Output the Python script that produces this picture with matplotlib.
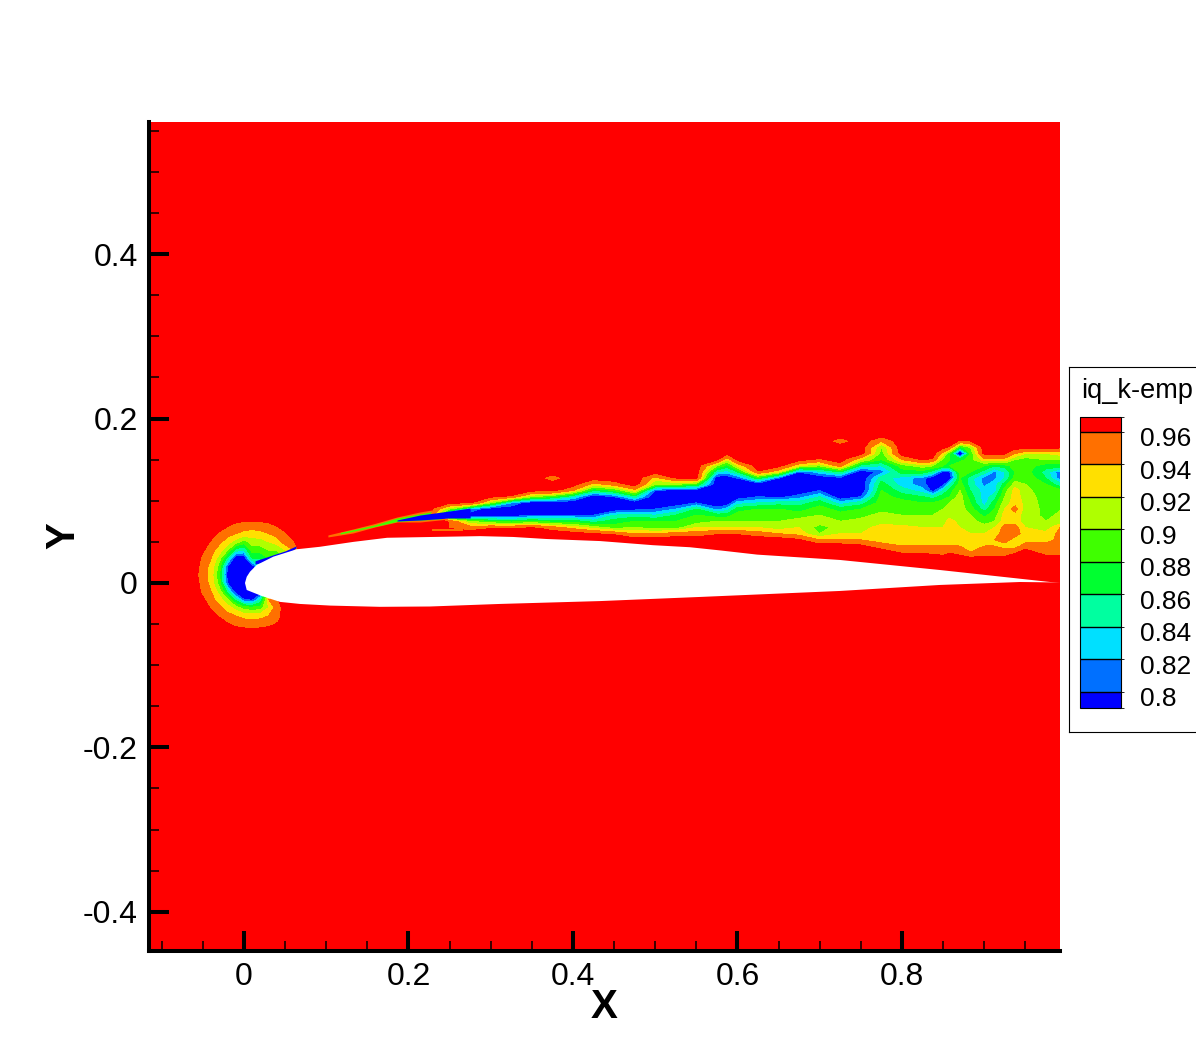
#!/usr/bin/python
import matplotlib
matplotlib.use("Agg")
import matplotlib.pyplot as plt
from matplotlib.cm import ScalarMappable
from matplotlib.colors import BoundaryNorm, ListedColormap
from matplotlib.ticker import MultipleLocator
import numpy as np

plt.rcParams['font.family'] = ['Liberation Sans', 'DejaVu Sans']

W, H = 1196, 1062

# contour levels and legend
level_ticks = [0.96, 0.94, 0.92, 0.9, 0.88, 0.86, 0.84, 0.82, 0.8]
legend_bounds = [0.79, 0.8, 0.82, 0.84, 0.86, 0.88, 0.9, 0.92, 0.94, 0.96, 0.969]
band_colors = ['#0000ff', '#0070ff', '#00e0ff', '#00ffa0', '#00ff30',
               '#3fff00', '#afff00', '#ffe000', '#ff7000', '#ff0000']
field_levels = [0, 0.8, 0.82, 0.84, 0.86, 0.88, 0.9, 0.92, 0.94, 0.96]

# wake field, values read at stations (in hundredths), top of each column first
wake_y = [0.18 - 0.0075 * i for i in range(21)]
wake_x = [0.225, 0.25, 0.275, 0.3, 0.325, 0.35, 0.375, 0.4, 0.425, 0.45, 0.475, 0.5,
          0.525, 0.55, 0.575, 0.5875, 0.6, 0.625, 0.65, 0.675, 0.7, 0.725, 0.75, 0.775,
          0.8, 0.825, 0.8375, 0.85, 0.858, 0.8705, 0.883, 0.9, 0.9125, 0.925, 0.9375,
          0.95, 0.975, 0.995]
# (number of red rows above, then values going down)
wake_cols = [
    (21, []),
    (12, [90, 78, 96, 96]),
    (12, [82, 78, 90, 95]),
    (11, [90, 78, 78, 88, 96]),
    (10, [96, 82, 78, 78, 87, 96]),
    (10, [90, 78, 78, 80, 88, 97]),
    (7, [95, 98, 98, 88, 78, 78, 80, 87, 95]),
    (9, [94, 84, 78, 78, 80, 87, 93]),
    (8, [93, 86, 78, 78, 78, 80, 85, 91, 97]),
    (8, [95, 88, 80, 78, 78, 84, 87, 89, 96]),
    (9, [93, 85, 78, 79, 85, 88, 90, 94]),
    (7, [93, 90, 80, 78, 78, 80, 84, 88, 89, 94]),
    (7, [97, 90, 78, 78, 78, 82, 86, 88, 89, 95]),
    (8, [88, 78, 78, 80, 86, 88, 89, 92, 95]),
    (5, [90, 84, 78, 78, 78, 78, 78, 81, 87, 90, 92, 96]),
    (4, [92, 87, 83, 78, 78, 78, 78, 78, 83, 87, 90, 92, 96]),
    (5, [92, 86, 80, 78, 78, 78, 83, 87, 89, 90, 92, 96]),
    (6, [96, 87, 78, 78, 80, 84, 88, 89, 90, 92, 95]),
    (6, [92, 80, 78, 78, 79, 85, 88, 89, 90, 91, 94]),
    (5, [92, 80, 78, 78, 78, 81, 85, 87, 89, 91, 92, 93, 97]),
    (4, [96, 90, 83, 78, 78, 80, 84, 87, 89, 90, 91, 89, 90, 94]),
    (1, [95, 98, 98, 98, 95, 86, 79, 78, 78, 78, 83, 87, 89, 90, 91, 92, 94]),
    (4, [92, 85, 78, 78, 78, 78, 80, 85, 88, 89, 91, 91, 92, 94, 97]),
    (1, [94, 90, 89, 88, 84, 81, 85, 87, 88, 89, 89, 89, 91, 91, 93, 93, 93, 95]),
    (4, [94, 89, 87, 83, 83, 85, 87, 89, 89, 90, 91, 92.5, 93, 93, 94, 96]),
    (4, [97, 91, 87, 81, 81, 83, 86, 88, 89, 90, 91, 92, 93, 93, 94, 96]),
    (4, [96, 90, 85, 78, 78, 79, 85, 88, 89, 90, 91, 92, 93, 93, 94, 95.5]),
    (3, [93, 89, 88, 79, 78, 79, 84, 87, 89, 90, 91, 91, 92, 93, 93, 94, 95]),
    (2, [96, 88, 88, 88, 80, 78.5, 84, 87, 88, 90, 91, 91, 93, 93, 92, 93, 94, 96]),
    (1, [96, 87, 76, 87, 90, 89, 88, 89, 90, 91, 91, 91, 91, 91, 92, 93, 93, 94, 95]),
    (1, [97, 90, 88, 89, 89, 88, 85, 85, 86, 87, 88, 89, 90, 91, 91, 92, 93, 93, 94, 97]),
    (4, [93, 88, 85, 81, 81.5, 83, 83, 83, 85, 87.5, 89, 91, 92, 93, 94, 95, 97]),
    (4, [93, 86, 81.5, 81.5, 83, 83, 85, 87, 88, 89, 90, 92, 93, 94, 94, 95, 97]),
    (3, [97, 93, 87, 84, 84, 87, 89, 90, 91, 92, 93, 93, 95, 95, 95, 93, 95, 97]),
    (3, [94, 90, 89, 88, 89, 91, 93, 93, 93, 95, 93, 93, 95, 95, 93, 93, 96]),
    (3, [92, 89, 89, 89, 90, 90, 90.5, 91, 91.5, 91, 91, 91, 92, 93, 93, 95]),
    (3, [92, 90, 87, 85, 86, 88, 89, 89, 89, 89.5, 89.5, 90, 91, 92.5, 93, 95, 95]),
    (2, [97, 93, 90, 87, 80, 80, 84, 88, 89, 90, 90, 90.5, 91, 94.5, 95, 95, 95, 95]),
]

# leading edge field, rows top to bottom
nose_x = [-0.06, -0.05, -0.04, -0.03, -0.02, -0.01, 0.0, 0.01, 0.02, 0.03, 0.04, 0.05, 0.06, 0.07]
nose_y = [0.08, 0.07, 0.06, 0.05, 0.04, 0.03, 0.02, 0.01, 0.0, -0.01, -0.02, -0.03, -0.04, -0.05, -0.06]
nose_rows = [
    [98, 98, 98, 98, 98, 98, 97.5, 97.5, 97.5, 98, 98, 98, 98, 98],
    [98, 98, 98, 97.8, 96.6, 95.6, 95.2, 95, 95.2, 95.6, 96.5, 98, 98, 98],
    [98, 98, 97.6, 95.9, 94.7, 94, 93.3, 93, 93.3, 94, 94.7, 95.9, 97.5, 98],
    [98, 98, 96, 94.5, 93, 91, 89, 91, 91, 92, 93, 95, 96, 98],
    [98, 96.8, 94.7, 93, 90, 85, 84, 89, 89, 90, 90, 92, 94, 98],
    [98, 95.6, 94, 91, 85, 78, 78, 86, 86, 88, 90, 90, 90, 98],
    [97.5, 95.2, 93.3, 89, 80, 78, 78, 78, 85, 90, 90, 90, 90, 98],
    [97, 95, 93, 88.5, 79, 78, 78, 78, 90, 90, 90, 90, 90, 98],
    [97.5, 95.2, 93.3, 89, 80, 78, 78, 78, 90, 90, 90, 90, 90, 98],
    [98, 95.6, 94, 91, 85, 78, 78, 78, 78, 90, 90, 90, 90, 98],
    [98, 96.8, 94.7, 93, 90, 85, 80, 79, 84, 94, 96, 98, 98, 98],
    [98, 98, 96, 94.5, 93, 91, 89, 88.5, 89, 92, 95, 97.5, 98, 98],
    [98, 98, 97.6, 96, 94.7, 94, 93.3, 93, 93.3, 94, 95, 98, 98, 98],
    [98, 98, 98, 97.8, 96.6, 95.6, 95.2, 95, 95.2, 95.6, 96.5, 98, 98, 98],
    [98, 98, 98, 98, 98, 98, 97.5, 97.5, 97.5, 98, 98, 98, 98, 98],
]

# thin shear layer ahead of the wake table
sliver_x = [0.102, 0.1325, 0.159, 0.186, 0.214, 0.25, 0.275]
sliver_top = [0.0584, 0.0657, 0.0724, 0.0803, 0.0864, 0.0925, 0.0949]
sliver_bottom = [0.056, 0.0608, 0.0681, 0.0742, 0.0742, 0.0779, 0.0779]
core_x = [0.117, 0.159, 0.186, 0.25, 0.275]
core_top = [0.0614, 0.0706, 0.0791, 0.0906, 0.0937]
core_bottom = [0.0596, 0.0687, 0.0748, 0.0785, 0.0785]
blue_x = [0.186, 0.214, 0.25, 0.275]
blue_top = [0.0766, 0.0827, 0.0876, 0.0912]
blue_bottom = [0.0754, 0.0766, 0.0791, 0.0791]
streak_x = [0.228, 0.266]
streak_top = [0.0657, 0.0657]
streak_bottom = [0.0635, 0.0635]

# blue streak on the upper surface near the nose
nose_streak_x = [0.0134, 0.0316, 0.0498, 0.0632]
nose_streak_top = [0.027, 0.033, 0.039, 0.045]
nose_streak_bottom = [0.023, 0.027, 0.033, 0.0426]

# airfoil surface
upper_x = [0.0012, 0.0033, 0.0073, 0.0154, 0.0356, 0.064, 0.092, 0.133, 0.174, 0.23, 0.287, 0.327,
           0.368, 0.433, 0.497, 0.542, 0.58, 0.624, 0.7246, 0.846, 0.98, 0.9927]
upper_y = [0.0, 0.0075, 0.0137, 0.0219, 0.032, 0.041, 0.044, 0.05, 0.055, 0.056, 0.057, 0.056,
           0.0535, 0.051, 0.046, 0.0435, 0.0395, 0.0345, 0.028, 0.0158, 0.0012, 0.0006]
lower_x = [0.9927, 0.9435, 0.846, 0.7246, 0.554, 0.433, 0.311, 0.226, 0.165, 0.105, 0.068, 0.0438, 0.0215, 0.0033]
lower_y = [0.0006, 0.0012, -0.0024, -0.0097, -0.017, -0.022, -0.0255, -0.0286, -0.029, -0.0275,
           -0.0255, -0.023, -0.0158, -0.0085]

x_ticks = [0, 0.2, 0.4, 0.6, 0.8]
x_labels = ['0', '0.2', '0.4', '0.6', '0.8']
y_ticks = [-0.4, -0.2, 0, 0.2, 0.4]
y_labels = ['-0.4', '-0.2', '0', '0.2', '0.4']


def px_rect(left, top, right, bottom):
    return [left / W, 1 - bottom / H, (right - left) / W, (bottom - top) / H]


fig = plt.figure(figsize=(W / 100, H / 100), dpi=100)
ax = fig.add_axes(px_rect(149, 122, 1060, 951))
ax.set_facecolor('#ff0000')
ax.set_xlim(-0.1155, 0.9921)
ax.set_ylim(-0.4477, 0.5608)

# slivers go first, the red band of the fields is left unfilled
ax.fill_between(sliver_x, sliver_bottom, sliver_top, color=band_colors[8], lw=0)
ax.fill_between(core_x, core_bottom, core_top, color=band_colors[5], lw=0)
ax.fill_between(streak_x, streak_bottom, streak_top, color=band_colors[8], lw=0)

wake = np.array([[98] * k + vals + [98] * (21 - k - len(vals)) for k, vals in wake_cols]).T / 100
ax.contourf(wake_x, wake_y[::-1], wake[::-1], levels=field_levels, colors=band_colors[:9])
nose = np.array(nose_rows) / 100
ax.contourf(nose_x, nose_y[::-1], nose[::-1], levels=field_levels, colors=band_colors[:9])
ax.fill_between(blue_x, blue_bottom, blue_top, color=band_colors[0], lw=0, zorder=2)
ax.fill_between(nose_streak_x, nose_streak_bottom, nose_streak_top, color=band_colors[0], lw=0, zorder=2)

ax.fill(upper_x + lower_x, upper_y + lower_y, color='white', lw=0, zorder=3)

# axes
for side in ['top', 'right']:
    ax.spines[side].set_visible(False)
for side in ['left', 'bottom']:
    ax.spines[side].set_linewidth(2.9)
ax.set_xticks(x_ticks)
ax.set_xticklabels(x_labels)
ax.set_yticks(y_ticks)
ax.set_yticklabels(y_labels)
ax.xaxis.set_minor_locator(MultipleLocator(0.05))
ax.yaxis.set_minor_locator(MultipleLocator(0.05))
ax.tick_params(which='major', direction='in', length=14.4, width=2.9, labelsize=23, pad=8, zorder=5)
ax.tick_params(which='minor', direction='in', length=7, width=1.1, zorder=5)
fig.text(604 / W, 1 - 1007 / H, 'X', fontsize=29, fontweight='bold', ha='center', va='center')
fig.text(63 / W, 1 - 536 / H, 'Y', fontsize=29, fontweight='bold', ha='center', va='center', rotation=90)

# legend box runs off the right edge
box = fig.add_axes(px_rect(1069, 367, 1200, 732))
box.set_xticks([])
box.set_yticks([])
for s in box.spines.values():
    s.set_linewidth(0.8)
fig.text(1081 / W, 1 - 391 / H, 'iq_k-emp', fontsize=19.5, ha='left', va='center')

cax = fig.add_axes(px_rect(1080, 417, 1121, 708))
sm = ScalarMappable(norm=BoundaryNorm(legend_bounds, 10), cmap=ListedColormap(band_colors))
cb = fig.colorbar(sm, cax=cax, spacing='proportional', drawedges=True, ticks=[])
cb.dividers.set_color('black')
cb.dividers.set_linewidth(1)
cb.dividers.set_clip_on(True)
cb.outline.set_linewidth(0.8)
for lev in level_ticks:
    cax.annotate(f'{lev:g}', xy=(1, lev), xycoords=('axes fraction', 'data'),
                 xytext=(14, -5.5), textcoords='offset points', fontsize=19, ha='left', va='center')

fig.savefig('out.png', dpi=100)
